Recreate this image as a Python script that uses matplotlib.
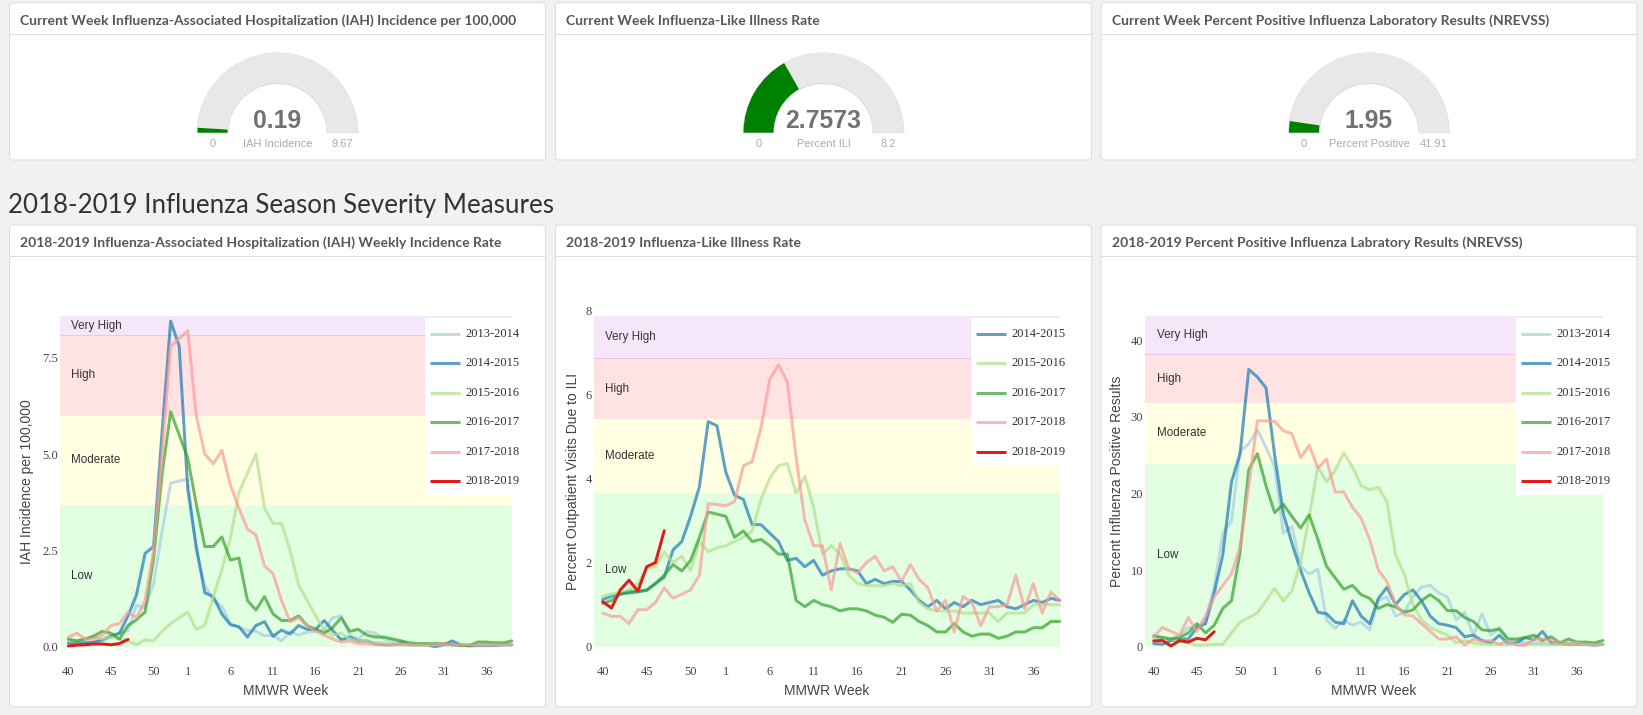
import matplotlib
matplotlib.use('Agg')
import matplotlib.pyplot as plt
from matplotlib.patches import FancyBboxPatch, Wedge, Rectangle

# ---------------- data ----------------
weeks = list(range(40, 54)) + list(range(1, 40))
tick_weeks = [40, 45, 50, 1, 6, 11, 16, 21, 26, 31, 36]

seasons = ['2013-2014', '2014-2015', '2015-2016', '2016-2017', '2017-2018', '2018-2019']
season_colors = ['#a6cee3', '#1f78b4', '#b2df8a', '#33a02c', '#fb9a99', '#e31a1c']

band_names = ['Low', 'Moderate', 'High', 'Very High']
band_colors = ['#e2ffe2', '#ffffe2', '#ffe2e2', '#f5e6fa']

# current week gauges
gauge_titles = ['Current Week Influenza-Associated Hospitalization (IAH) Incidence per 100,000',
                'Current Week Influenza-Like Illness Rate',
                'Current Week Percent Positive Influenza Laboratory Results (NREVSS)']
gauge_values = [0.19, 2.7573, 1.95]
gauge_max = [9.67, 8.2, 41.91]
gauge_value_text = ['0.19', '2.7573', '1.95']
gauge_max_text = ['9.67', '8.2', '41.91']
gauge_labels = ['IAH Incidence', 'Percent ILI', 'Percent Positive']

# IAH weekly incidence
iah_1314 = [0.1, 0.1, 0.1, 0.1, 0.15, 0.25, 0.35, 0.42, 1.08, 1.0,
            1.64, 3.0, 4.24, 4.3, 4.35, 2.5, 1.6, 1.2, 1.05, 0.6,
            0.5, 0.42, 0.4, 0.28, 0.3, 0.15, 0.4, 0.3, 0.38, 0.4,
            0.45, 0.75, 0.8, 0.3, 0.2, 0.4, 0.35, 0.2, 0.15, 0.15,
            0.05, 0.05, 0.05, 0.05, 0.05, 0.05, 0.05, 0.05, 0.05, 0.05,
            0.05, 0.05, 0.05]
iah_1415 = [0.1, 0.1, 0.1, 0.12, 0.18, 0.28, 0.35, 0.8, 1.35, 2.42,
            2.6, 5.6, 8.45, 7.8, 4.1, 2.6, 1.4, 1.3, 0.85, 0.57,
            0.52, 0.25, 0.55, 0.65, 0.27, 0.43, 0.33, 0.55, 0.45, 0.45,
            0.68, 0.42, 0.18, 0.25, 0.15, 0.15, 0.08, 0.05, 0.05, 0.08,
            0.05, 0.05, 0.05, 0.0, 0.05, 0.15, 0.05, 0.02, 0.03, 0.03,
            0.03, 0.05, 0.05]
iah_1516 = [0.15, 0.15, 0.2, 0.25, 0.2, 0.25, 0.2, 0.15, 0.05, 0.18,
            0.15, 0.4, 0.6, 0.75, 0.9, 0.45, 0.55, 1.3, 2.0, 2.8,
            4.0, 4.5, 5.0, 3.6, 3.2, 3.2, 2.5, 1.6, 1.2, 0.8,
            0.45, 0.3, 0.35, 0.2, 0.15, 0.15, 0.1, 0.1, 0.08, 0.05,
            0.05, 0.05, 0.05, 0.05, 0.05, 0.05, 0.05, 0.05, 0.05, 0.05,
            0.05, 0.05, 0.05]
iah_1617 = [0.2, 0.15, 0.2, 0.28, 0.4, 0.35, 0.2, 0.55, 0.7, 0.9,
            2.3, 4.5, 6.1, 5.5, 4.9, 3.7, 2.6, 2.6, 2.85, 2.25,
            2.3, 1.2, 0.95, 1.3, 0.85, 0.68, 0.68, 0.8, 0.55, 0.45,
            0.35, 0.5, 0.75, 0.4, 0.45, 0.3, 0.25, 0.25, 0.2, 0.15,
            0.1, 0.08, 0.08, 0.08, 0.08, 0.05, 0.03, 0.03, 0.12, 0.12,
            0.1, 0.1, 0.15]
iah_1718 = [0.25, 0.35, 0.2, 0.2, 0.3, 0.55, 0.6, 0.9, 0.75, 1.2,
            2.5, 5.0, 7.8, 8.0, 8.2, 6.0, 5.0, 4.75, 5.1, 4.2,
            3.6, 3.05, 2.9, 2.1, 1.9, 1.2, 0.65, 0.75, 0.55, 0.4,
            0.3, 0.2, 0.12, 0.15, 0.08, 0.08, 0.05, 0.05, 0.05, 0.05,
            0.05, 0.05, 0.05, 0.05, 0.08, 0.05, 0.05, 0.05, 0.05, 0.05,
            0.05, 0.05, 0.05]
iah_1819 = [0.02, 0.04, 0.05, 0.07, 0.07, 0.05, 0.08, 0.19]
iah_bands = [0.0, 3.68, 6.0, 8.08, 8.59]
iah_yticks = [0.0, 2.5, 5.0, 7.5]

# ILI rate
ili_1415 = [1.12, 1.2, 1.25, 1.28, 1.3, 1.35, 1.5, 1.65, 2.3, 2.5,
            3.1, 3.8, 5.35, 5.25, 4.15, 3.6, 3.5, 2.9, 2.9, 2.7,
            2.5, 2.05, 2.1, 1.9, 2.05, 1.7, 1.8, 1.85, 1.85, 1.8,
            1.5, 1.6, 1.5, 1.55, 1.55, 1.35, 1.1, 0.95, 1.1, 0.9,
            1.05, 0.95, 1.1, 1.0, 1.05, 1.1, 0.95, 0.9, 1.0, 1.1,
            1.05, 1.15, 1.1]
ili_1516 = [1.2, 1.25, 1.3, 1.35, 1.5, 1.85, 1.9, 2.25, 2.0, 2.15,
            1.8, 2.5, 2.26, 2.35, 2.4, 2.5, 2.6, 2.75, 3.5, 4.0,
            4.3, 4.35, 3.65, 4.05, 3.3, 2.2, 2.4, 2.2, 1.7, 1.5,
            1.45, 1.45, 1.45, 1.5, 1.45, 1.5, 1.05, 0.9, 0.85, 0.85,
            0.85, 0.8, 0.8, 0.8, 0.8, 0.6, 0.8, 0.8, 0.8, 1.0,
            1.0, 1.0, 1.0]
ili_1617 = [1.03, 1.1, 1.25, 1.3, 1.33, 1.33, 1.5, 1.7, 1.95, 1.8,
            2.05, 2.6, 3.2, 3.15, 3.1, 2.6, 2.75, 2.5, 2.55, 2.4,
            2.2, 2.2, 1.1, 0.95, 1.1, 1.0, 0.95, 0.85, 0.9, 0.9,
            0.85, 0.75, 0.7, 0.58, 0.77, 0.75, 0.6, 0.5, 0.35, 0.35,
            0.55, 0.35, 0.25, 0.3, 0.3, 0.2, 0.25, 0.35, 0.35, 0.45,
            0.45, 0.6, 0.6]
ili_1718 = [0.8, 0.72, 0.72, 0.55, 0.88, 0.88, 1.05, 1.4, 1.15, 1.25,
            1.35, 1.7, 3.4, 3.38, 3.35, 3.45, 4.3, 4.4, 5.2, 6.35,
            6.7, 6.3, 4.5, 3.0, 2.4, 2.4, 1.35, 2.45, 1.85, 1.75,
            2.0, 2.15, 1.8, 1.9, 1.55, 1.95, 1.6, 1.4, 0.85, 1.1,
            0.35, 1.2, 1.05, 0.5, 0.95, 0.95, 1.0, 1.7, 0.9, 1.5,
            0.8, 1.3, 1.1]
ili_1819 = [1.07, 0.92, 1.35, 1.58, 1.32, 1.9, 2.0, 2.7573]
ili_bands = [0.0, 3.66, 5.40, 6.85, 7.87]
ili_yticks = [0, 2, 4, 6, 8]

# NREVSS percent positive
pos_1314 = [1.0, 0.8, 1.0, 1.5, 2.5, 2.5, 3.5, 7.8, 14.8, 16.4,
            25.5, 26.5, 28.3, 26.0, 23.5, 14.8, 15.7, 10.5, 9.5, 10.1,
            3.5, 2.4, 3.5, 2.8, 3.2, 2.2, 6.0, 6.5, 4.0, 4.5,
            6.5, 7.8, 8.0, 7.0, 6.5, 3.5, 4.5, 1.5, 4.3, 1.5,
            2.5, 1.0, 0.8, 0.5, 0.5, 0.5, 0.3, 0.3, 0.3, 0.3,
            0.3, 0.3, 0.3]
pos_1415 = [0.4, 0.3, 0.8, 1.0, 1.0, 2.5, 3.0, 7.0, 12.0, 21.5,
            25.2, 36.2, 35.2, 33.8, 25.0, 17.4, 13.5, 10.0, 7.0, 4.5,
            4.3, 3.2, 3.0, 6.0, 4.0, 3.0, 6.3, 7.75, 5.5, 6.8,
            7.4, 6.0, 4.0, 3.0, 2.8, 2.5, 1.3, 1.5, 0.8, 0.5,
            1.5, 0.4, 0.5, 1.2, 0.9, 2.0, 0.5, 0.5, 0.3, 0.3,
            0.3, 0.2, 0.3]
pos_1516 = [1.5, 1.2, 1.0, 0.8, 0.5, 0.2, 0.2, 0.3, 0.3, 1.8,
            3.2, 3.8, 4.4, 6.0, 7.6, 6.0, 7.3, 11.0, 17.0, 23.5,
            21.5, 23.0, 25.3, 23.5, 21.0, 20.5, 20.8, 18.9, 12.0, 9.5,
            5.5, 3.5, 2.5, 2.0, 1.5, 0.5, 0.8, 0.5, 0.3, 0.3,
            0.3, 0.3, 0.3, 0.3, 0.3, 0.3, 0.3, 0.3, 0.3, 0.3,
            0.3, 0.3, 0.3]
pos_1617 = [1.4, 1.2, 1.0, 1.2, 1.8, 3.0, 1.8, 2.8, 5.0, 6.0,
            12.4, 23.1, 25.2, 21.0, 17.5, 18.6, 17.0, 15.5, 17.2, 14.0,
            10.5, 9.0, 7.5, 8.0, 6.8, 6.3, 5.0, 5.5, 5.2, 4.5,
            4.8, 6.0, 6.8, 6.0, 4.7, 4.7, 3.8, 3.3, 2.2, 2.1,
            2.3, 1.0, 1.0, 1.2, 1.5, 0.8, 1.3, 0.5, 1.0, 0.6,
            0.6, 0.5, 0.8]
pos_1718 = [1.3, 2.5, 2.0, 1.5, 3.8, 2.0, 4.0, 6.5, 8.0, 9.5,
            13.0, 21.0, 29.5, 29.5, 29.4, 28.2, 27.8, 24.7, 26.3, 23.3,
            24.5, 20.2, 20.2, 18.2, 16.8, 14.0, 10.0, 8.5, 5.5, 4.2,
            4.0, 3.0, 2.0, 1.0, 1.0, 1.3, 0.2, 1.0, 0.7, 0.8,
            0.3, 0.8, 0.2, 0.2, 1.0, 1.0, 0.8, 0.5, 0.5, 0.5,
            0.3, 0.3, 0.3]
pos_1819 = [0.74, 0.8, 0.1, 0.8, 0.6, 1.1, 0.9, 1.95]
pos_bands = [0.0, 23.9, 31.8, 38.2, 43.2]
pos_yticks = [0, 10, 20, 30, 40]

chart_titles = ['2018-2019 Influenza-Associated Hospitalization (IAH) Weekly Incidence Rate',
                '2018-2019 Influenza-Like Illness Rate',
                '2018-2019 Percent Positive Influenza Labratory Results (NREVSS)']
chart_ylabels = ['IAH Incidence per 100,000', 'Percent Outpatient Visits Due to ILI',
                 'Percent Influenza Positive Results']
heading = '2018-2019 Influenza Season Severity Measures'

# ---------------- layout (pixels) ----------------
W, H, DPI = 1643, 715, 100
PT = 0.72  # points per pixel
SANS = 'Liberation Sans'
SERIF = 'Liberation Serif'
LINE_ALPHA = 0.7

fig = plt.figure(figsize=(W / DPI, H / DPI), dpi=DPI, facecolor='#f1f1f1')
bg = fig.add_axes([0, 0, 1, 1], zorder=0)
bg.set_xlim(0, W); bg.set_ylim(H, 0); bg.axis('off')
top = fig.add_axes([0, 0, 1, 1], zorder=10)
top.set_xlim(0, W); top.set_ylim(H, 0); top.axis('off'); top.patch.set_alpha(0)

renderer = fig.canvas.get_renderer()


def fit_width(t, target):
    w = t.get_window_extent(renderer).width
    t.set_fontsize(t.get_fontsize() * target / w)


panel_x = [9.5, 555.5, 1101.0]
panel_w = 536.0
top_y, top_h = 2.7, 157.3
bot_y, bot_h = 225.0, 481.7
HEAD = 30.8


def panel(x, y, h):
    bg.add_patch(FancyBboxPatch((x, y), panel_w, h, boxstyle='round,pad=0,rounding_size=3',
                                fc='white', ec='#dcdcdc', lw=1.0 * PT, zorder=1))
    bg.plot([x + 0.5, x + panel_w - 0.5], [y + HEAD, y + HEAD], color='#dddddd', lw=1.0 * PT, zorder=2)


# title font size fitted on the first title
t0 = bg.text(0, -100, gauge_titles[0], fontfamily='Lato', fontweight='bold', fontsize=10)
fit_width(t0, 498)
title_fs = t0.get_fontsize()
t0.remove()

for k in range(3):
    panel(panel_x[k], top_y, top_h)
    panel(panel_x[k], bot_y, bot_h)
    bg.text(panel_x[k] + 11.0, top_y + 18.0, gauge_titles[k], fontfamily='Lato', fontweight='bold',
            fontsize=title_fs, color='#575757', va='center', ha='left', zorder=3)
    bg.text(panel_x[k] + 11.0, bot_y + 18.0, chart_titles[k], fontfamily='Lato', fontweight='bold',
            fontsize=title_fs, color='#575757', va='center', ha='left', zorder=3)

# heading
th = bg.text(8.5, 213.0, heading, fontfamily='Lato', fontsize=20, color='#333333',
             va='baseline', ha='left', zorder=3)
fit_width(th, 545)

# gauges
R_OUT, R_W = 80.0, 30.0
GY = 132.7
for k in range(3):
    cx = panel_x[k] + panel_w / 2
    bg.add_patch(Wedge((cx, GY + 0.6), R_OUT + 0.8, 180, 360, width=R_W + 1.6, fc='#dedede', ec='none', zorder=3))
    bg.add_patch(Wedge((cx, GY), R_OUT, 180, 360, width=R_W, fc='#e8e8e8', ec='none', zorder=4))
    frac = gauge_values[k] / gauge_max[k]
    bg.add_patch(Wedge((cx, GY), R_OUT, 180, 180 + 180 * frac, width=R_W, fc='#008000', ec='none', zorder=5))
    bg.text(cx, GY - 12.0, gauge_value_text[k], fontfamily=SANS, fontweight='bold', fontsize=17.8,
            color='#727272', ha='center', va='center', zorder=6)
    rm = R_OUT - R_W / 2
    bg.text(cx - rm, GY + 11.6, '0', fontfamily=SANS, fontsize=8.0, color='#ababab', ha='center', va='center', zorder=6)
    bg.text(cx + rm, GY + 11.6, gauge_max_text[k], fontfamily=SANS, fontsize=8.0, color='#ababab',
            ha='center', va='center', zorder=6)
    bg.text(cx, GY + 11.6, gauge_labels[k], fontfamily=SANS, fontsize=8.0, color='#ababab',
            ha='center', va='center', zorder=6)

# ---------------- line charts ----------------
charts = [
    dict(series=[iah_1314, iah_1415, iah_1516, iah_1617, iah_1718, iah_1819], names=seasons,
         colors=season_colors, bands=iah_bands, yticks=iah_yticks, fmt='{:.1f}',
         x0=68.3, dx=8.53, yscale=38.53, ymax=8.59, ylab_x=26.7, leg_x=425.0),
    dict(series=[ili_1415, ili_1516, ili_1617, ili_1718, ili_1819], names=seasons[1:],
         colors=season_colors[1:], bands=ili_bands, yticks=ili_yticks, fmt='{:.0f}',
         x0=602.7, dx=8.79, yscale=42.08, ymax=8.0, ylab_x=572.7, leg_x=971.0),
    dict(series=[pos_1314, pos_1415, pos_1516, pos_1617, pos_1718, pos_1819], names=seasons,
         colors=season_colors, bands=pos_bands, yticks=pos_yticks, fmt='{:.0f}',
         x0=1153.7, dx=8.64, yscale=7.66, ymax=43.2, ylab_x=1117.3, leg_x=1516.0),
]

Y0 = 646.7
tick_pos = [weeks.index(w) for w in tick_weeks]
for c in charts:
    left = c['x0'] - c['dx']
    right = c['x0'] + 52 * c['dx']
    ytop = Y0 - c['ymax'] * c['yscale']
    ax = fig.add_axes([left / W, 1 - Y0 / H, (right - left) / W, (Y0 - ytop) / H], zorder=5)
    ax.set_xlim(-1, 52)
    ax.set_ylim(0, c['ymax'])
    ax.patch.set_alpha(0)
    for s in ax.spines.values():
        s.set_visible(False)
    b = c['bands']
    for j in range(4):
        ax.axhspan(b[j], b[j + 1], color=band_colors[j], lw=0, zorder=0)
        ax.annotate(band_names[j], xy=(0, (b[j] + b[j + 1]) / 2), xycoords=('axes fraction', 'data'),
                    xytext=(11.5 * PT, 0), textcoords='offset points', fontfamily=SANS, fontsize=8.4,
                    color='#333333', ha='left', va='center', zorder=1)
    ax.plot([-1, 52], [b[3], b[3]], color='#ecc6e4', lw=1.0 * PT, zorder=0.5)
    for vals, col in zip(c['series'], c['colors']):
        alpha = 1.0 if col == '#e31a1c' else LINE_ALPHA
        ax.plot(range(len(vals)), vals, color=col, lw=3 * PT, alpha=alpha, clip_on=False,
                solid_joinstyle='round', solid_capstyle='round', zorder=2)
    ax.set_xticks(tick_pos, [str(w) for w in tick_weeks])
    ax.set_yticks(c['yticks'], [c['fmt'].format(v) for v in c['yticks']])
    ax.tick_params(axis='x', length=0, pad=25.0 * PT, labelsize=9, labelcolor='#444444')
    ax.tick_params(axis='y', length=0, pad=2.0 * PT, labelsize=9, labelcolor='#444444')
    for lab in ax.get_xticklabels():
        lab.set_fontfamily(SERIF); lab.set_va('center')
    for lab in ax.get_yticklabels():
        lab.set_fontfamily(SERIF)
    # axis title
    bg.text((left + right) / 2, 690.7, 'MMWR Week', fontfamily=SANS, fontsize=10, color='#444444',
            ha='center', va='center', zorder=3)
    # legend
    n = len(c['names'])
    lx = c['leg_x']
    top.add_patch(Rectangle((lx, 318.0), right - lx, 15.6 + (n - 1) * 29.5 + 14.0, fc='white', ec='none'))
    for k, (nm, col) in enumerate(zip(c['names'], c['colors'])):
        yy = 318.0 + 15.6 + k * 29.5
        alpha = 1.0 if col == '#e31a1c' else LINE_ALPHA
        top.plot([lx + 5, lx + 35], [yy, yy], color=col, lw=3 * PT, alpha=alpha, solid_capstyle='butt')
        top.text(lx + 40.5, yy, nm, fontfamily=SERIF, fontsize=9, color='#333333', ha='left', va='center')

for c, lab in zip(charts, chart_ylabels):
    bg.text(c['ylab_x'], 481.7, lab, fontfamily=SANS, fontsize=10, color='#444444', rotation=90,
            ha='center', va='center', zorder=3)

fig.savefig('out.png', dpi=DPI, facecolor=fig.get_facecolor())
